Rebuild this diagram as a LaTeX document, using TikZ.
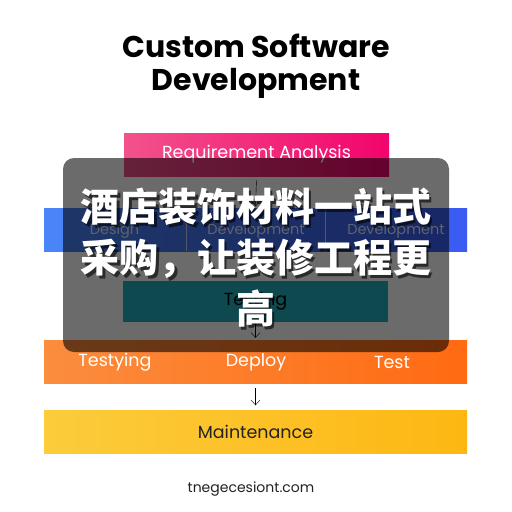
\documentclass[tikz,border=0pt]{standalone}
\usepackage{fontspec}
\setmainfont{Poppins}
\newfontfamily\cjk{Noto Sans CJK SC}
\usepackage{tikz}
\usetikzlibrary{arrows.meta, positioning}
\definecolor{PinkL}{HTML}{F2528C}
\definecolor{PinkR}{HTML}{F2046C}
\definecolor{BlueL}{HTML}{4A85F7}
\definecolor{BlueR}{HTML}{3A5BF2}
\definecolor{TealC}{HTML}{1FB0BE}
\definecolor{OrangeL}{HTML}{FB8D3E}
\definecolor{OrangeR}{HTML}{FF6A12}
\definecolor{YellowL}{HTML}{FCCC3C}
\definecolor{YellowR}{HTML}{FDB712}
\definecolor{InkGray}{HTML}{222222}

\begin{document}
\begin{tikzpicture}[x=1pt, y=-1pt,
  bar/.style={minimum height=43pt, inner sep=0pt},
  lbl/.style={font=\fontsize{17.5}{20}\selectfont, text=white},
  arr/.style={-{Straight Barb[length=5pt, width=9pt]}, thin, black},
  cjktxt/.style={font=\cjk\bfseries\fontsize{39}{51}\selectfont, align=center}
]
\useasboundingbox[fill=white] (0,0) rectangle (512,512);

% ── TITLE ─────────────────────────────────────────────────────────────────────
\node[font=\fontsize{30}{33}\selectfont\bfseries, align=center, text=black] (title) at (256, 66)
  {Custom Software\\Development};

% ── STAGES ────────────────────────────────────────────────────────────────────
\node[bar, minimum width=265pt, left color=PinkL, right color=PinkR] (req) at (256.5, 154.5) {};
\node[lbl] (reqtxt) at (req) {Requirement Analysis};

\node[bar, minimum width=423pt, left color=BlueL, right color=BlueR] (dev) at (255.5, 230) {};
\draw[white!70!BlueR, thin] (186, 209) -- (186, 251) (325, 209) -- (325, 251);
\node[lbl, font=\fontsize{14.5}{17}\selectfont, text=white!85!BlueL] (design) at (114.5, 231) {Design};
\node[lbl, font=\fontsize{14.5}{17}\selectfont, text=white!85!BlueL] (devA)   at (256, 231) {Development};
\node[lbl, font=\fontsize{14.5}{17}\selectfont, text=white!85!BlueL] (devB)   at (396, 231) {Development};

\node[bar, minimum width=265pt, minimum height=41pt, fill=TealC] (test) at (255.5, 301.5) {};
\node[lbl, text=black] (testtxt) at (test) {Testing};

\node[bar, minimum width=423pt, left color=OrangeL, right color=OrangeR] (ops) at (255.5, 361.5) {};
\node[lbl] (testy)  at (115, 362) {Testying};
\node[lbl] (deploy) at (256, 362) {Deploy};
\node[lbl] (testB)  at (392, 362) {Test};

\node[bar, minimum width=423pt, left color=YellowL, right color=YellowR] (maint) at (255.5, 432) {};
\node[lbl, text=InkGray] (mainttxt) at (maint) {Maintenance};

\draw[arr] ([yshift=-4pt]req.south) -- ([yshift=2pt]dev.north);
\draw[arr] ([yshift=-1pt]test.south) -- ([yshift=2pt]ops.north);
\draw[arr] ([yshift=-5pt]ops.south) -- ([yshift=5pt]maint.north);

\node[font=\fontsize{14}{16}\selectfont, text=InkGray] (site) at (251, 489) {tnegecesiont.com};

% ── OVERLAY ───────────────────────────────────────────────────────────────────
\fill[black, opacity=0.58, rounded corners=11pt] (63, 158) rectangle (449, 352);
\node[cjktxt, text=black, opacity=0.6] (shadow) at (258.5, 261)
  {酒店装饰材料一站式\\采购，让装修工程更\\高};
\node[cjktxt, text=white] (banner) at (256, 258)
  {酒店装饰材料一站式\\采购，让装修工程更\\高};

\end{tikzpicture}
\end{document}
